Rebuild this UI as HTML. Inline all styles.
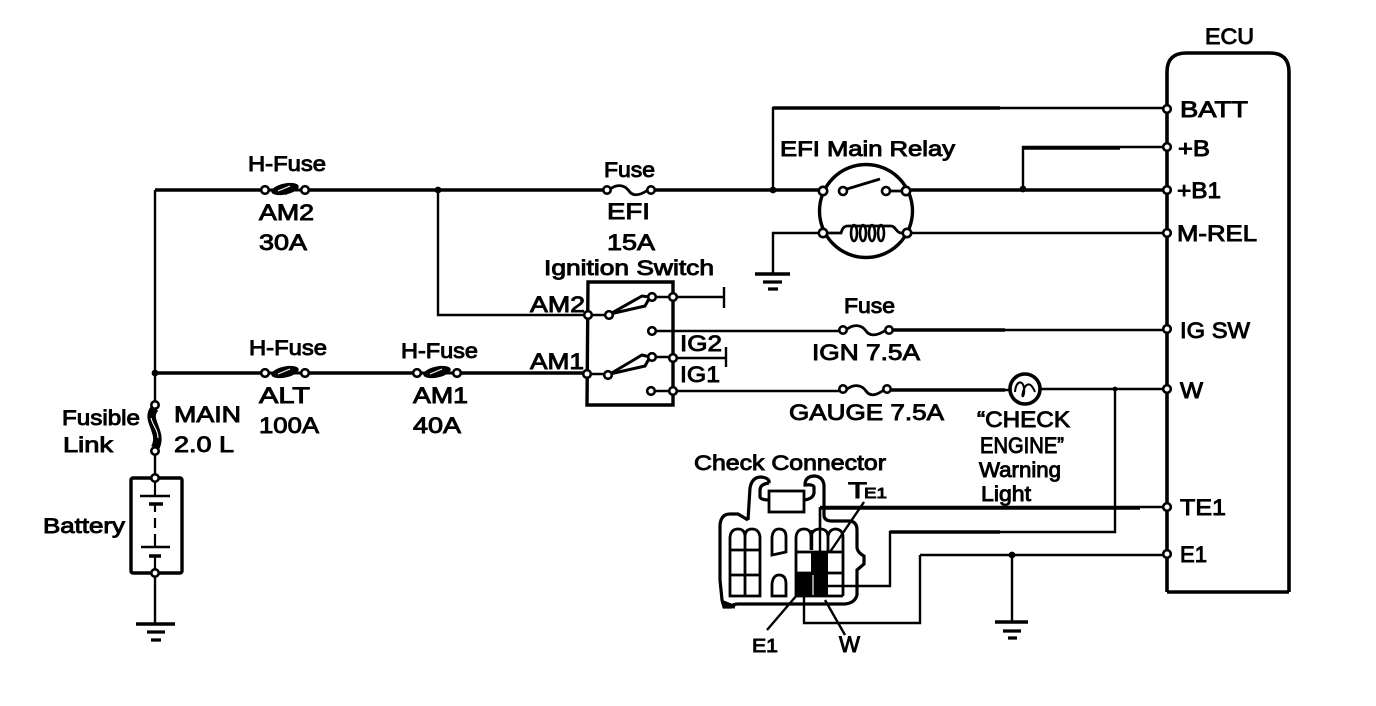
<!DOCTYPE html>
<html><head><meta charset="utf-8"><style>
html,body{margin:0;padding:0;background:#fff;width:1376px;height:706px;overflow:hidden}
svg{display:block}
text{font-family:"Liberation Sans",sans-serif;font-size:22px;fill:#000;stroke:#000;stroke-width:.9}
.s{font-size:21px}
.w{fill:none;stroke:#000;stroke-width:2.4}
.t{fill:none;stroke:#000;stroke-width:3.4}
.c{fill:#fff;stroke:#000;stroke-width:2.6}
</style></head><body>
<svg width="1376" height="706" viewBox="0 0 1376 706" xmlns="http://www.w3.org/2000/svg">
<defs></defs>
<!-- main wiring -->
<path class="t" d="M155 190H265M305 190H605M651 190H822M906 190H1166M155 373H265M305 373H417M457 373H586"/>
<path class="w" d="M155 190V405M155 451V478M155 573V623M438 190V315H587M773 190V108H1166M1023 189V147H1166M823 233H773V274M907 233H1166M652 331H840M891 330H1166M673 391H845M888 390H1010M1040 389H1166M1115 389V532H890V586H826M820 507H1166M820 507V590M920 555H1166M920 555V623H804V590M1012 555V622"/>
<path class="t" d="M891 330H1005M888 390H1005M820 508H1140M890 532H1000M1023 148H1120M773 108H1000"/>
<!-- junction dots -->
<g fill="#000"><circle cx="155" cy="373" r="3.4"/><circle cx="438" cy="190" r="3.4"/><circle cx="773" cy="190" r="3.4"/><circle cx="1023" cy="189" r="3.4"/><circle cx="1115" cy="389" r="2.4"/><circle cx="1012" cy="555" r="3.4"/></g>
<!-- grounds -->
<path d="M136 624H175M755 274H790M995 622H1028" stroke="#000" stroke-width="3.6" fill="none"/>
<path d="M147 632H165M151 640H161M763 282H782M768 289H778M1003 631H1021M1008 638H1017" stroke="#000" stroke-width="3.2" fill="none"/>
<!-- H fuses -->
<g>
<ellipse cx="285" cy="189" rx="14" ry="5.5" fill="#000" transform="rotate(-12 285 189)"/>
<path d="M268 190H302M279 193L289 184M285 194L295 186" stroke="#000" stroke-width="3"/>
<path d="M278 191L290 186" stroke="#fff" stroke-width="1.1"/>
<circle class="c" cx="265" cy="190" r="3.8"/><circle class="c" cx="305" cy="190" r="3.8"/>
</g>
<g transform="translate(0,183)">
<ellipse cx="285" cy="189" rx="14" ry="5.5" fill="#000" transform="rotate(-12 285 189)"/>
<path d="M268 190H302" stroke="#000" stroke-width="3"/>
<path d="M278 191L290 186" stroke="#fff" stroke-width="1.1"/>
<circle class="c" cx="265" cy="190" r="3.8"/><circle class="c" cx="305" cy="190" r="3.8"/>
</g>
<g transform="translate(152,183)">
<ellipse cx="285" cy="189" rx="14" ry="5.5" fill="#000" transform="rotate(-12 285 189)"/>
<path d="M268 190H302" stroke="#000" stroke-width="3"/>
<path d="M278 191L290 186" stroke="#fff" stroke-width="1.1"/>
<circle class="c" cx="265" cy="190" r="3.8"/><circle class="c" cx="305" cy="190" r="3.8"/>
</g>
<!-- plain fuses -->
<path class="t" style="stroke-width:2.8" d="M609 190C616 184 624 184 629 191S642 194 648 190"/>
<circle class="c" cx="607" cy="190" r="3.7"/><circle class="c" cx="651" cy="190" r="3.7"/>
<path class="t" style="stroke-width:2.8" d="M846 330C853 324 861 324 866 331S880 334 886 330"/>
<circle class="c" cx="843" cy="330" r="3.7"/><circle class="c" cx="889" cy="330" r="3.7"/>
<path class="t" style="stroke-width:2.8" d="M846 390C853 384 861 384 866 391S878 394 884 390"/>
<circle class="c" cx="843" cy="389" r="3.7"/><circle class="c" cx="887" cy="389" r="3.7"/>
<!-- fusible link -->
<path d="M155 408C144 420 164 432 155 448" fill="none" stroke="#000" stroke-width="8.5"/>
<path d="M151 418C153 426 158 430 158 438" fill="none" stroke="#fff" stroke-width="1.1"/>
<circle class="c" cx="155" cy="405" r="3.7"/><circle class="c" cx="155" cy="451" r="3.7"/>
<!-- battery -->
<rect x="131" y="478" width="51" height="95" rx="2" fill="#fff" stroke="#000" stroke-width="3.4"/>
<path d="M140 496H170M141 547H170" stroke="#000" stroke-width="2.4"/>
<path d="M149 504H163M149 556H161" stroke="#000" stroke-width="3.6"/>
<path d="M155 478V496M155 504V512M155 518V528M155 534V547M155 556V573" stroke="#000" stroke-width="2.2"/>
<circle class="c" cx="155" cy="478" r="3.7"/><circle class="c" cx="155" cy="573" r="3.7"/>
<!-- ignition switch -->
<path d="M588 282H673V405H587Z" fill="none" stroke="#000" stroke-width="3.4"/>
<path class="t" d="M610 314L642 296L650 297L645 306ZM610 374L642 355L650 357L645 366Z" style="stroke-width:3"/>
<path class="w" d="M588 315H609M587 374H608M655 297H673M655 357H673M673 297H723M673 358H725M655 391H673"/>
<path class="w" d="M724 287V308M726 347V367"/>
<circle class="c" cx="588" cy="315" r="3.8"/><circle class="c" cx="587" cy="374" r="3.8"/><circle class="c" cx="673" cy="297" r="3.8"/><circle class="c" cx="673" cy="358" r="3.8"/><circle class="c" cx="673" cy="391" r="3.8"/>
<circle class="c" cx="609" cy="315" r="3.8"/><circle class="c" cx="608" cy="375" r="3.8"/><circle class="c" cx="652" cy="297" r="3.8"/><circle class="c" cx="652" cy="357" r="3.8"/><circle class="c" cx="652" cy="331" r="3.8"/><circle class="c" cx="651" cy="391" r="3.8"/>
<!-- relay -->
<circle cx="866" cy="211" r="46.5" fill="#fff" stroke="#000" stroke-width="3.4"/>
<path class="w" d="M847 189L880 179M889 191H906M827 233H841C843 226 846 226 848 226H891C896 226 896 234 903 233" style="stroke-width:2.8"/>
<g fill="none" stroke="#000" stroke-width="2.6"><ellipse cx="854" cy="233" rx="3" ry="8"/><ellipse cx="863" cy="233" rx="3" ry="8"/><ellipse cx="872" cy="233" rx="3" ry="8"/><ellipse cx="881" cy="233" rx="3" ry="8"/></g>
<circle class="c" cx="823" cy="191" r="4.2"/><circle class="c" cx="906" cy="191" r="4.2"/><circle class="c" cx="823" cy="233" r="4.2"/><circle class="c" cx="907" cy="233" r="4.2"/><circle class="c" cx="843" cy="191" r="4"/><circle class="c" cx="886" cy="191" r="4"/>
<!-- lamp -->
<circle cx="1025" cy="389" r="15" fill="#fff" stroke="#000" stroke-width="3.6"/>
<path class="w" d="M1015 392C1016 380 1023 380 1024 388C1025 396 1021 400 1023 392S1030 380 1035 392" style="stroke-width:2"/>
<!-- ECU -->
<path d="M1167 592V72Q1167 53 1186 53H1270Q1289 53 1289 72V592" fill="none" stroke="#000" stroke-width="3.6"/>
<path d="M1167 592H1289" stroke="#000" stroke-width="3.4"/>
<g><circle class="c" cx="1167" cy="109" r="3.8"/><circle class="c" cx="1167" cy="147" r="3.8"/><circle class="c" cx="1167" cy="190" r="3.8"/><circle class="c" cx="1167" cy="233" r="3.8"/><circle class="c" cx="1167" cy="329" r="3.8"/><circle class="c" cx="1167" cy="389" r="3.8"/><circle class="c" cx="1167" cy="507" r="3.8"/><circle class="c" cx="1167" cy="554" r="3.8"/></g>
<!-- check connector -->
<path class="t" style="stroke-width:3.2" d="M748 520L750 488Q752 477 761 477Q770 478 769 483M769 483Q760 484 760 490V497Q761 500 769 500M804 500Q813 499 814 493V487Q813 484 805 485Q805 476 815 476Q823 477 824 485V515Q824 521 832 521H850Q857 522 857 530V548Q858 553 864 556V564L857 570V595Q855 603 845 604H738Q733 604 731 607H724L722 600L720 580V525Q721 514 730 514H738L748 520"/>
<path d="M722 602L735 607" stroke="#000" stroke-width="4"/>
<rect x="769" y="491" width="35" height="21" fill="#fff" stroke="#000" stroke-width="2.8"/>
<g fill="none" stroke="#000" stroke-width="2.8">
<path d="M730 596V537Q731 529 738 529Q745 529 745 537Q745 529 752 529Q759 529 760 537V596ZM745 537V596M730 550H760M730 575H760"/>
<path d="M772 555V537Q773 529 779 529Q786 529 786 537V552ZM772 596V584Q773 575 779 575Q786 575 786 584V596Z"/>
<path d="M796 596V537Q797 529 804 529Q811 529 811 537V550M811 537Q812 529 820 529Q828 529 828 537V551M828 537Q829 529 836 529Q843 530 843 537V596M796 596H843M796 552H843M796 573H843"/>
</g>
<rect x="811" y="551" width="17" height="45" fill="#000"/><rect x="797" y="573" width="14" height="23" fill="#000"/>
<path d="M813 575V595" stroke="#fff" stroke-width="1.2"/>
<path class="w" d="M864 502L830 552M797 595L767 630M825 600L845 635"/>
<path class="w" d="M820 507V530M812 530V550"/>
<!-- labels -->
<text class="s" x="248" y="171" textLength="78" lengthAdjust="spacingAndGlyphs">H-Fuse</text>
<text x="259" y="220" textLength="55" lengthAdjust="spacingAndGlyphs">AM2</text>
<text x="259" y="250" textLength="48" lengthAdjust="spacingAndGlyphs">30A</text>
<text class="s" x="604" y="177" textLength="51" lengthAdjust="spacingAndGlyphs">Fuse</text>
<text x="607" y="219" textLength="43" lengthAdjust="spacingAndGlyphs">EFI</text>
<text x="607" y="250" textLength="48" lengthAdjust="spacingAndGlyphs">15A</text>
<text class="s" x="780" y="156" textLength="175" lengthAdjust="spacingAndGlyphs">EFI Main Relay</text>
<text class="s" x="544" y="275" textLength="170" lengthAdjust="spacingAndGlyphs">Ignition Switch</text>
<text x="530" y="312" textLength="55" lengthAdjust="spacingAndGlyphs">AM2</text>
<text x="530" y="369" textLength="54" lengthAdjust="spacingAndGlyphs">AM1</text>
<text x="680" y="351" textLength="42" lengthAdjust="spacingAndGlyphs">IG2</text>
<text x="680" y="382" textLength="40" lengthAdjust="spacingAndGlyphs">IG1</text>
<text class="s" x="844" y="313" textLength="51" lengthAdjust="spacingAndGlyphs">Fuse</text>
<text x="812" y="360" textLength="108" lengthAdjust="spacingAndGlyphs">IGN 7.5A</text>
<text x="789" y="420" textLength="155" lengthAdjust="spacingAndGlyphs">GAUGE 7.5A</text>
<text class="s" x="249" y="355" textLength="78" lengthAdjust="spacingAndGlyphs">H-Fuse</text>
<text x="259" y="403" textLength="51" lengthAdjust="spacingAndGlyphs">ALT</text>
<text x="259" y="433" textLength="60" lengthAdjust="spacingAndGlyphs">100A</text>
<text class="s" x="401" y="358" textLength="77" lengthAdjust="spacingAndGlyphs">H-Fuse</text>
<text x="413" y="403" textLength="55" lengthAdjust="spacingAndGlyphs">AM1</text>
<text x="413" y="433" textLength="48" lengthAdjust="spacingAndGlyphs">40A</text>
<text class="s" x="62" y="425" textLength="78" lengthAdjust="spacingAndGlyphs">Fusible</text>
<text class="s" x="63" y="452" textLength="50" lengthAdjust="spacingAndGlyphs">Link</text>
<text x="174" y="422" textLength="67" lengthAdjust="spacingAndGlyphs">MAIN</text>
<text x="174" y="452" textLength="60" lengthAdjust="spacingAndGlyphs">2.0 L</text>
<text class="s" x="43" y="533" textLength="82" lengthAdjust="spacingAndGlyphs">Battery</text>
<text class="s" x="694" y="470" textLength="192" lengthAdjust="spacingAndGlyphs">Check Connector</text>
<text x="848" y="498" textLength="19" lengthAdjust="spacingAndGlyphs">T</text>
<text class="s" x="864" y="498" style="font-size:15px" textLength="23" lengthAdjust="spacingAndGlyphs">E1</text>
<text x="752" y="652" style="font-size:18px" textLength="26" lengthAdjust="spacingAndGlyphs">E1</text>
<text x="839" y="652" textLength="21" lengthAdjust="spacingAndGlyphs">W</text>
<text x="977" y="427" textLength="93" lengthAdjust="spacingAndGlyphs">“CHECK</text>
<text x="980" y="453" textLength="84" lengthAdjust="spacingAndGlyphs">ENGINE”</text>
<text class="s" x="979" y="477" textLength="82" lengthAdjust="spacingAndGlyphs">Warning</text>
<text class="s" x="981" y="501" textLength="50" lengthAdjust="spacingAndGlyphs">Light</text>
<text x="1205" y="44" textLength="49" lengthAdjust="spacingAndGlyphs">ECU</text>
<text x="1180" y="117" textLength="68" lengthAdjust="spacingAndGlyphs">BATT</text>
<text x="1178" y="156" textLength="32" lengthAdjust="spacingAndGlyphs">+B</text>
<text x="1177" y="198" textLength="44" lengthAdjust="spacingAndGlyphs">+B1</text>
<text x="1177" y="241" textLength="80" lengthAdjust="spacingAndGlyphs">M-REL</text>
<text x="1180" y="338" textLength="70" lengthAdjust="spacingAndGlyphs">IG SW</text>
<text x="1180" y="398" textLength="23" lengthAdjust="spacingAndGlyphs">W</text>
<text x="1180" y="515" textLength="46" lengthAdjust="spacingAndGlyphs">TE1</text>
<text x="1180" y="562" textLength="27" lengthAdjust="spacingAndGlyphs">E1</text>
</svg>
</body></html>
